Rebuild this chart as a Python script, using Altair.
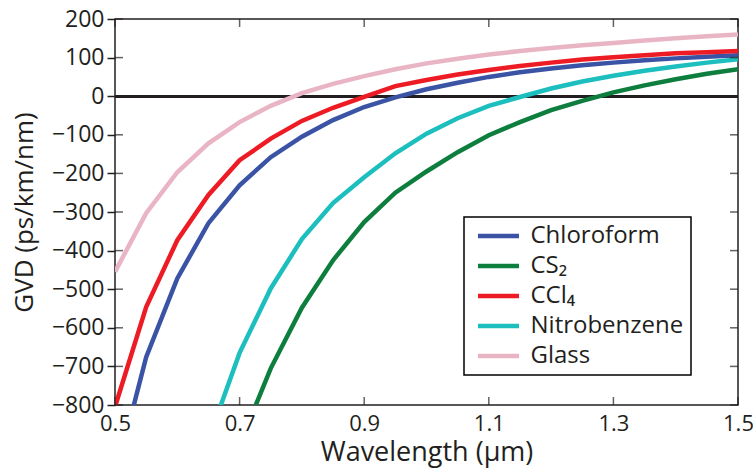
import altair as alt
import pandas as pd

wavelength = [0.5, 0.55, 0.6, 0.65, 0.7, 0.75, 0.8, 0.85, 0.9, 0.95, 1.0,
              1.05, 1.1, 1.15, 1.2, 1.25, 1.3, 1.35, 1.4, 1.45, 1.5]
chloroform = [-990, -676, -472, -329, -231, -158, -105, -62, -28, -3, 18,
              35, 50, 62, 72, 80, 87, 93, 98, 102, 106]
cs2 = [None, None, None, None, -903, -705, -548, -425, -326, -250, -195,
       -145, -101, -67, -36, -12, 10, 28, 44, 58, 70]
ccl4 = [-805, -546, -373, -256, -166, -110, -64, -30, -2, 26, 42,
        56, 68, 78, 87, 95, 101, 106, 111, 114, 117]
nitrobenzene = [None, None, None, -890, -665, -498, -370, -277, -210, -148, -97,
                -57, -25, -2, 20, 38, 53, 66, 77, 87, 96]
glass = [-455, -303, -197, -122, -67, -25, 8, 32, 52, 70, 85,
         97, 108, 117, 125, 132, 138, 144, 150, 155, 160]

series_names = ["Chloroform", "CS\u2082", "CCl\u2084", "Nitrobenzene", "Glass"]
series_colors = ["#3a53a4", "#0d7e3e", "#ed1c24", "#1cbebe", "#e9b5c5"]
series_values = [chloroform, cs2, ccl4, nitrobenzene, glass]

x_ticks = [0.5, 0.7, 0.9, 1.1, 1.3, 1.5]
y_ticks = [-800, -700, -600, -500, -400, -300, -200, -100, 0, 100, 200]

X_TITLE = "Wavelength (\u00b5m)"
Y_TITLE = "GVD (ps/km/nm)"
INK = "#231f20"

rows = []
for name, vals in zip(series_names, series_values):
    for w, v in zip(wavelength, vals):
        if v is not None:
            rows.append({"wl": w, "gvd": v, "series": name})
df = pd.DataFrame(rows)
xt = pd.DataFrame({"t": x_ticks})
yt = pd.DataFrame({"t": y_ticks})

xscale = alt.Scale(domain=[x_ticks[0], x_ticks[-1]], nice=False, zero=False)
yscale = alt.Scale(domain=[y_ticks[0], y_ticks[-1]], nice=False, zero=False)

xaxis = alt.Axis(values=x_ticks, format=".1f", tickSize=0, labelPadding=8,
                 titlePadding=5, domain=False, grid=False, labelFlush=False,
                 labelFontSize=22, titleFontSize=27)
yaxis = alt.Axis(values=y_ticks, format="d", tickSize=8, tickWidth=1.5, tickColor=INK,
                 labelPadding=3, titlePadding=14, domain=False, grid=False,
                 labelFlush=False, labelFontSize=23, titleFontSize=26)

zero_rule = alt.Chart(df).mark_rule(color=INK, strokeWidth=2).encode(
    y=alt.YDatum(0, scale=yscale, axis=yaxis, title=Y_TITLE)
)

lines = alt.Chart(df).mark_line(strokeWidth=4.5, clip=True).encode(
    x=alt.X("wl:Q", scale=xscale, axis=xaxis, title=X_TITLE),
    y=alt.Y("gvd:Q", scale=yscale, axis=yaxis, title=Y_TITLE),
    color=alt.Color(
        "series:N",
        scale=alt.Scale(domain=series_names, range=series_colors),
        title=None,
        legend=alt.Legend(
            orient="none", legendX=349, legendY=198,
            symbolType="M-3,0H3", symbolSize=187, symbolStrokeWidth=4.5,
            symbolOffset=15.5, labelOffset=20, rowPadding=6, padding=7,
            labelFontSize=24, labelColor=INK, labelLimit=400,
            labelExpr="datum.label + '     '",
            strokeColor="black", fillColor="white",
        ),
    ),
    order=alt.Order("wl:Q"),
)

tick_style = dict(color=INK, thickness=1.5, size=8)

bottom_ticks = alt.Chart(xt).mark_tick(orient="vertical", yOffset=-4, **tick_style).encode(
    x=alt.X("t:Q", scale=xscale, axis=xaxis, title=X_TITLE),
    y=alt.YDatum(y_ticks[0], scale=yscale, axis=yaxis, title=Y_TITLE),
)
top_ticks = alt.Chart(xt).mark_tick(orient="vertical", yOffset=4, **tick_style).encode(
    x=alt.X("t:Q", scale=xscale, axis=xaxis, title=X_TITLE),
    y=alt.YDatum(y_ticks[-1], scale=yscale, axis=yaxis, title=Y_TITLE),
)
left_ticks = alt.Chart(yt).mark_tick(orient="horizontal", xOffset=4, **tick_style).encode(
    y=alt.Y("t:Q", scale=yscale, axis=yaxis, title=Y_TITLE),
    x=alt.XDatum(x_ticks[0], scale=xscale, axis=xaxis, title=X_TITLE),
)
right_ticks = alt.Chart(yt).mark_tick(orient="horizontal", xOffset=-4, **tick_style).encode(
    y=alt.Y("t:Q", scale=yscale, axis=yaxis, title=Y_TITLE),
    x=alt.XDatum(x_ticks[-1], scale=xscale, axis=xaxis, title=X_TITLE),
)

chart = alt.layer(
    zero_rule, lines, bottom_ticks, top_ticks, left_ticks, right_ticks
).properties(
    width=623, height=386,
    autosize=alt.AutoSizeParams(type="none"),
    padding={"left": 115, "top": 19, "right": 15, "bottom": 64},
).configure(
    font="Open Sans",
).configure_axis(
    labelColor=INK, titleColor=INK,
    titleFontWeight="normal",
).configure_legend(
    strokeWidth=1.5,
).configure_view(
    stroke=INK, strokeWidth=1.5,
)

chart.save("out.html", embed_options={"renderer": "svg", "actions": False})
